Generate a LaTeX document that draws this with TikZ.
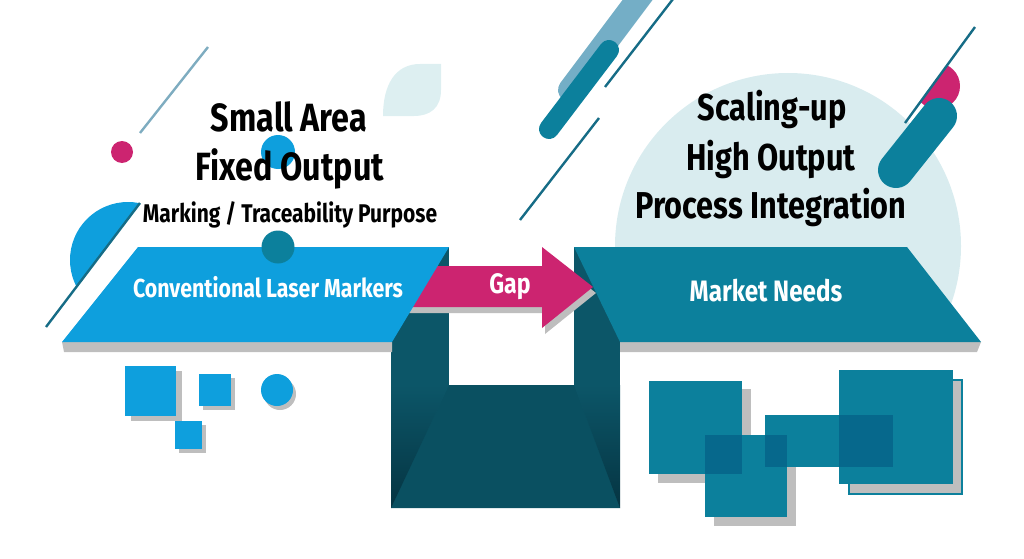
\documentclass[tikz,border=0pt]{standalone}
\usepackage{fontspec}
\newfontfamily\headfont{Fira Sans}[FakeStretch=0.82]
\usetikzlibrary{positioning}
\definecolor{skyblue}{RGB}{14,159,221}
\definecolor{tealA}{RGB}{12,128,156}
\definecolor{tealdeep}{RGB}{6,104,140}
\definecolor{wall}{RGB}{12,86,104}
\definecolor{floorc}{RGB}{10,80,97}
\definecolor{walldeep}{RGB}{5,52,66}
\definecolor{magentaA}{RGB}{204,36,112}
\definecolor{paleteal}{RGB}{217,236,239}
\definecolor{paleleaf}{RGB}{221,239,241}
\definecolor{shadowgray}{RGB}{190,190,190}
\definecolor{tealline}{RGB}{22,108,134}
\definecolor{steel}{RGB}{116,174,198}
\definecolor{steelline}{RGB}{126,172,192}

\begin{document}
\begin{tikzpicture}[x=0.025cm, y=-0.025cm,
    bigtxt/.style={font=\headfont\bfseries\fontsize{28}{32}\selectfont, text=black, anchor=base, inner sep=0pt},
    bigtxtR/.style={font=\headfont\bfseries\fontsize{26.6}{30}\selectfont, text=black, anchor=base, inner sep=0pt},
    midtxt/.style={font=\headfont\bfseries\fontsize{18.2}{21}\selectfont, text=black, anchor=base, inner sep=0pt},
    bartxt/.style={font=\headfont\bfseries\fontsize{18.5}{22}\selectfont, text=white, anchor=base, inner sep=0pt},
    thinline/.style={line width=0.06cm},
    sqshadow/.style={fill=shadowgray}]
\useasboundingbox (0,0) rectangle (1024,558);
\clip (0,0) rectangle (1024,558);

% backdrops
\begin{scope}
  \clip (600,40) rectangle (1000,342);
  \fill[paleteal] (788,246) circle (173);
\end{scope}
\fill[paleleaf] (441,64) -- (441,90) .. controls (441,108) and (430,116) .. (414,116) -- (383,116) .. controls (383,85) and (395,64) .. (420,64) -- cycle;
\begin{scope}
  \clip (0,362) -- (19,362) -- (173,160) -- (0,160) -- cycle;
  \fill[skyblue] (128,260) circle (58);
\end{scope}
\draw[tealline, thinline] (46,327) -- (140,203);
\draw[steelline, thinline] (208,47) -- (140,133);
\fill[magentaA] (122,152) circle (11);
\fill[skyblue] (278,152) circle (17);

% bars top middle
\draw[steel, line width=0.6cm, line cap=round] (570,90) -- (660,-30);
\draw[tealA, line width=0.5cm, line cap=round] (549,129) -- (609,50);
\draw[tealline, thinline] (605,87) -- (680,-10);
\draw[tealline, thinline] (520,220) -- (599,118);

% bars top right
\begin{scope}
  \clip (880,157) -- (1000,-7) -- (1024,-7) -- (1024,157) -- cycle;
  \fill[magentaA] (937,86) circle (23);
\end{scope}
\draw[tealline, thinline] (905,123) -- (975,27);
\draw[tealA, line width=0.9cm, line cap=round] (896,170) -- (939,116);

% the gap
\fill[wall] (391,247) rectangle (620,508);
\fill[white] (449,247) rectangle (574,385);
\fill[floorc] (449,385) -- (574,385) -- (620,508) -- (391,508) -- cycle;
\shade[top color=wall, bottom color=walldeep] (391,385) -- (449,385) -- (391,508) -- cycle;
\shade[top color=wall, bottom color=walldeep] (574,385) -- (620,385) -- (620,508) -- cycle;

% arrow
\fill[shadowgray] (403,272) -- (545,272) -- (545,253) -- (596,293) -- (545,334) -- (545,313) -- (403,313) -- cycle;
\fill[magentaA] (400,266) -- (542,266) -- (542,247) -- (593,287) -- (542,328) -- (542,307) -- (400,307) -- cycle;

% bars
\fill[shadowgray] (62,342) -- (392,342) -- (392,352) -- (64,352) -- cycle;
\fill[skyblue] (138,247) -- (449,247) -- (392,342) -- (62,342) -- cycle;
\fill[shadowgray] (620,342) -- (981,342) -- (977,352) -- (620,352) -- cycle;
\fill[tealA] (574,247) -- (907,247) -- (981,342) -- (620,342) -- cycle;
\fill[tealA] (278,247) circle (16.5);

% small blocks left
\fill[sqshadow] (131,371) rectangle (182,421);
\fill[skyblue] (125,366) rectangle (176,416);
\fill[sqshadow] (203,378) rectangle (235,410);
\fill[skyblue] (199,374) rectangle (231,406);
\fill[sqshadow] (179,425) rectangle (206,453);
\fill[skyblue] (175,421) rectangle (202,449);
\fill[sqshadow] (280,394) circle (16);
\fill[skyblue] (277,390) circle (16);

% blocks right
\fill[sqshadow] (658,389) rectangle (751,483);
\fill[sqshadow] (714,444) rectangle (796,526);
\filldraw[sqshadow, draw=tealA, line width=0.04cm] (849,380) rectangle (962,494);
\fill[tealA] (649,381) rectangle (742,474);
\fill[tealA] (705,435) rectangle (787,517);
\fill[tealA] (765,415) rectangle (893,467);
\fill[tealA] (839,370) rectangle (953,484);
\fill[tealdeep] (705,435) rectangle (742,474);
\fill[tealdeep] (765,435) rectangle (787,467);
\fill[tealdeep] (839,415) rectangle (893,467);

% texts
\node[bigtxt] (smallarea) at (289,131) {Small Area};
\node[bigtxt] (fixedout) at (290,180) {Fixed Output};
\node[midtxt] (purpose) at (290,222) {Marking / Traceability Purpose};
\node[bigtxtR] (scaling) at (772,120) {Scaling-up};
\node[bigtxtR] (highout) at (771,170) {High Output};
\node[bigtxtR] (integration) at (771,218) {Process Integration};
\node[bartxt] (conv) at (268,297) {Conventional Laser Markers};
\node[bartxt, font=\headfont\bfseries\fontsize{20}{24}\selectfont] (gap) at (510,293) {Gap};
\node[bartxt, font=\headfont\bfseries\fontsize{21}{24}\selectfont] (needs) at (766,301) {Market Needs};
\end{tikzpicture}
\end{document}
